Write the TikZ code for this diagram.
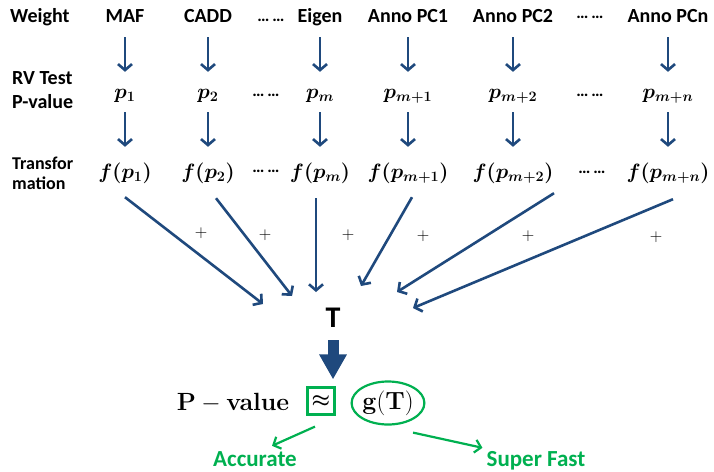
\documentclass[tikz,border=0pt]{standalone}
\usepackage[no-math]{fontspec}
\setmainfont{Carlito}
\usepackage{amsmath,bm}
\usetikzlibrary{arrows.meta,shapes.geometric}
\definecolor{flowblue}{RGB}{31,73,125}
\definecolor{goodgreen}{RGB}{0,176,80}

\begin{document}
\begin{tikzpicture}[x=1pt, y=-1pt,
    rowlabel/.style={anchor=west, align=left, inner sep=0pt, font=\fontsize{20}{24}\selectfont\bfseries},
    weight/.style={inner sep=0pt, text height=14pt, text depth=4pt, font=\fontsize{20}{22}\selectfont\bfseries},
    pval/.style={inner sep=0pt, text height=14pt, text depth=4pt, font=\fontsize{22}{24}\selectfont},
    dots/.style={inner sep=0pt, font=\fontsize{17}{18}\selectfont\bfseries},
    plus/.style={inner sep=0pt, font=\fontsize{18}{18}\selectfont},
    downarrow/.style={flowblue, line width=2.6pt, -{Straight Barb[length=6pt,width=14pt]}},
    sumarrow/.style={flowblue, line width=2.6pt, -{Straight Barb[length=6pt,width=14pt]}},
    bigarrow/.style={flowblue, line width=11pt, -{Triangle[length=25pt,width=26pt]}},
    greenline/.style={draw=goodgreen, line width=2.2pt, text=black, inner sep=0pt},
    goodarrow/.style={goodgreen, line width=2.2pt, -{Straight Barb[length=6pt,width=13pt]}},
    goodtext/.style={inner sep=0pt, text=goodgreen, text height=16pt, text depth=0pt,
                     font=\fontsize{23}{24}\selectfont\bfseries}]
  % One column: #1 = name, #2 = x-coordinate, #3 = weight, #4 = p-value, #5 = transformed p-value.
  \newcommand{\rvcolumn}[5]{%
    \node[weight] (w#1) at (#2,17) {#3};
    \node[pval] (p#1) at (#2,93) {#4};
    \node[pval] (f#1) at (#2,173) {#5};
    \draw[downarrow, shorten <=11pt, shorten >=12pt] (w#1) -- (p#1);
    \draw[downarrow, shorten <=10pt, shorten >=17pt] (p#1) -- (f#1);}

  \useasboundingbox (0,0) rectangle (714,471);

  % row labels
  \node[rowlabel] (weightlabel) at (10,17) {Weight};
  \node[rowlabel] (rvlabel) at (12,90) {RV Test\\P-value};
  \node[rowlabel, font=\fontsize{18}{20}\selectfont\bfseries] (translabel) at (12,173) {Transfor\\mation};

  \rvcolumn{1}{125}{MAF}{$\bm{p_1}$}{$\bm{f(p_1)}$}
  \rvcolumn{2}{208}{CADD}{$\bm{p_2}$}{$\bm{f(p_2)}$}
  \rvcolumn{3}{320}{Eigen}{$\bm{p_m}$}{$\bm{f(p_m)}$}
  \rvcolumn{4}{408}{Anno PC1}{$\bm{p_{m+1}}$}{$\bm{f(p_{m+1})}$}
  \rvcolumn{5}{513}{Anno PC2}{$\bm{p_{m+2}}$}{$\bm{f(p_{m+2})}$}
  \rvcolumn{6}{668}{Anno PCn}{$\bm{p_{m+n}}$}{$\bm{f(p_{m+n})}$}

  % the omitted columns
  \foreach \i/\dx/\dy in {1/271/20, 2/266/95, 3/266/171, 4/590/17, 5/590/95, 6/592/172}
    \node[dots] (dots\i) at (\dx,\dy) {…\,…};

  % sum of the transformed p-values
  \node[inner sep=0pt, text height=20pt, text depth=0pt, font=\fontsize{30}{32}\selectfont\bfseries] (T) at (333,317) {T};
  \foreach \i/\tx/\ty in {1/263/304, 2/292/296, 3/316/292, 4/361/286, 5/397/292, 6/413/308}
    \coordinate (tip\i) at (\tx,\ty);
  \foreach \i/\dx/\dy in {1/0/15, 2/8/16, 3/-4/16, 4/4/15, 5/41/11, 6/5/17}
    \draw[sumarrow] ([xshift=\dx pt, yshift=-\dy pt]f\i.south) -- (tip\i);
  \foreach \i/\px/\py in {1/201/233, 2/265/235, 3/348/235, 4/423/236, 5/528/236, 6/656/237}
    \node[plus] (plus\i) at (\px,\py) {$+$};

  % p-value of T
  \node[font=\fontsize{24}{26}\selectfont] (pvalue) at (233,403) {$\mathbf{P-value}$};
  \node[greenline, minimum size=27pt] (approx) at (321,401) {\fontsize{22}{24}\selectfont$\bm{\approx}$};
  \node[greenline, ellipse, minimum width=71pt, minimum height=43pt] (gT) at (388,403)
    {\fontsize{25}{26}\selectfont$\mathbf{g(T)}$};
  \draw[bigarrow, shorten <=13pt, shorten >=7pt] (T.south) -- (T.south |- approx.north);

  \node[goodtext] (acc) at (255,458) {Accurate};
  \node[goodtext] (sf) at (536,458) {Super Fast};
  \draw[goodarrow] ([xshift=-6pt, yshift=-11pt]approx.south) -- ([xshift=17pt, yshift=4pt]acc.north);
  \draw[goodarrow] ([xshift=25pt, yshift=-7pt]gT.south) -- ([xshift=-4pt, yshift=2pt]sf.north west);
\end{tikzpicture}
\end{document}
